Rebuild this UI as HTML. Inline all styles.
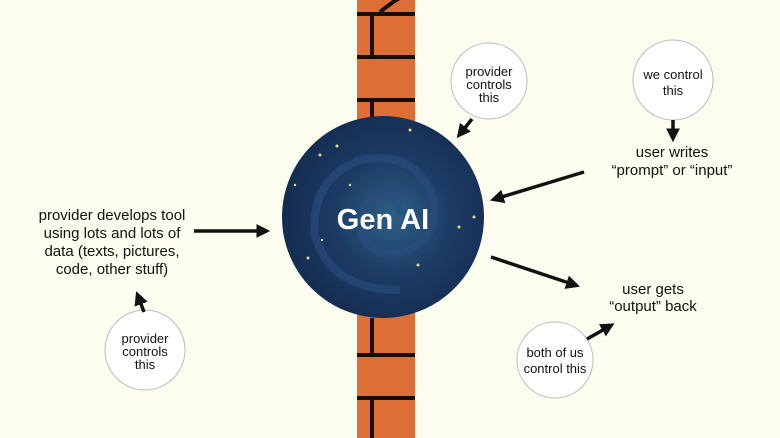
<!DOCTYPE html>
<html><head><style>
html,body{margin:0;padding:0;background:#fcfdee;}
svg{display:block;}
text{font-family:"Liberation Sans",sans-serif;fill:#111;}
</style></head><body>
<svg width="780" height="438" viewBox="0 0 780 438" xmlns="http://www.w3.org/2000/svg">
<defs>
<marker id="ah" markerWidth="4" markerHeight="4" refX="2.5" refY="2" orient="auto" markerUnits="strokeWidth"><path d="M0,0 L4,2 L0,4 z" fill="#111"/></marker>
<radialGradient id="g" cx="0.55" cy="0.5" r="0.6"><stop offset="0" stop-color="#2d5f86"/><stop offset="0.5" stop-color="#1c3a63"/><stop offset="1" stop-color="#122a4d"/></radialGradient>
</defs>
<rect width="780" height="438" fill="#fcfdee"/>
<!-- wall -->
<rect x="357" y="0" width="58" height="438" fill="#dd6f36"/>
<g stroke="#1a0d05" stroke-width="4" fill="none">
<line x1="357" y1="14" x2="415" y2="14"/><line x1="357" y1="57" x2="415" y2="57"/><line x1="357" y1="100" x2="415" y2="100"/>
<line x1="372" y1="14" x2="372" y2="57"/><line x1="372" y1="100" x2="372" y2="118"/>
<line x1="357" y1="355" x2="415" y2="355"/><line x1="357" y1="398" x2="415" y2="398"/>
<line x1="372" y1="318" x2="372" y2="355"/><line x1="372" y1="398" x2="372" y2="438"/>
<path d="M380,12 Q395,0 400,-2"/>
</g>
<!-- gen ai -->
<circle cx="383" cy="217" r="101" fill="url(#g)"/>
<g fill="none" stroke="#2a4f80" stroke-width="8" opacity="0.6">
<path d="M400,215 Q400,195 380,198 Q355,205 362,235 Q375,262 410,250 Q445,230 430,190 Q410,150 360,160"/>
<path d="M360,160 Q310,180 315,235 Q330,290 400,290"/>
</g>
<g fill="#e8d48a">
<circle cx="320" cy="155" r="1.5"/><circle cx="337" cy="146" r="1.5"/><circle cx="410" cy="130" r="1.5"/><circle cx="295" cy="185" r="1.2"/><circle cx="308" cy="258" r="1.5"/><circle cx="474" cy="217" r="1.5"/><circle cx="459" cy="227" r="1.5"/><circle cx="418" cy="265" r="1.5"/><circle cx="350" cy="185" r="1.2"/><circle cx="322" cy="240" r="1.2"/>
</g>
<text x="383" y="229" text-anchor="middle" font-size="29" font-weight="bold" style="fill:#fff">Gen AI</text>
<!-- bubbles -->
<g fill="#fff" stroke="#bbb" stroke-width="1">
<circle cx="489" cy="81" r="38"/>
<circle cx="673" cy="80" r="40"/>
<circle cx="555" cy="360" r="38"/>
<circle cx="145" cy="350" r="40"/>
</g>
<g font-size="13" text-anchor="middle">
<text x="489" y="76">provider</text><text x="489" y="89">controls</text><text x="489" y="102">this</text>
<text x="673" y="79">we control</text><text x="673" y="95">this</text>
<text x="555" y="357">both of us</text><text x="555" y="373">control this</text>
<text x="145" y="343">provider</text><text x="145" y="356">controls</text><text x="145" y="369">this</text>
</g>
<g font-size="15" text-anchor="middle">
<text x="112" y="220">provider develops tool</text>
<text x="112" y="238">using lots and lots of</text>
<text x="112" y="256">data (texts, pictures,</text>
<text x="112" y="274">code, other stuff)</text>
<text x="672" y="157">user writes</text>
<text x="672" y="175">“prompt” or “input”</text>
<text x="653" y="294">user gets</text>
<text x="653" y="311">“output” back</text>
</g>
<g stroke="#111" stroke-width="3.5" fill="none" marker-end="url(#ah)">
<line x1="194" y1="231" x2="265" y2="231"/>
<line x1="144" y1="312" x2="138" y2="296"/>
<line x1="472" y1="119" x2="460" y2="134"/>
<line x1="673" y1="120" x2="673" y2="137"/>
<line x1="584" y1="172" x2="495" y2="199"/>
<line x1="491" y1="257" x2="575" y2="285"/>
<line x1="587" y1="339" x2="610" y2="326"/>
</g>
</svg>
</body></html>
